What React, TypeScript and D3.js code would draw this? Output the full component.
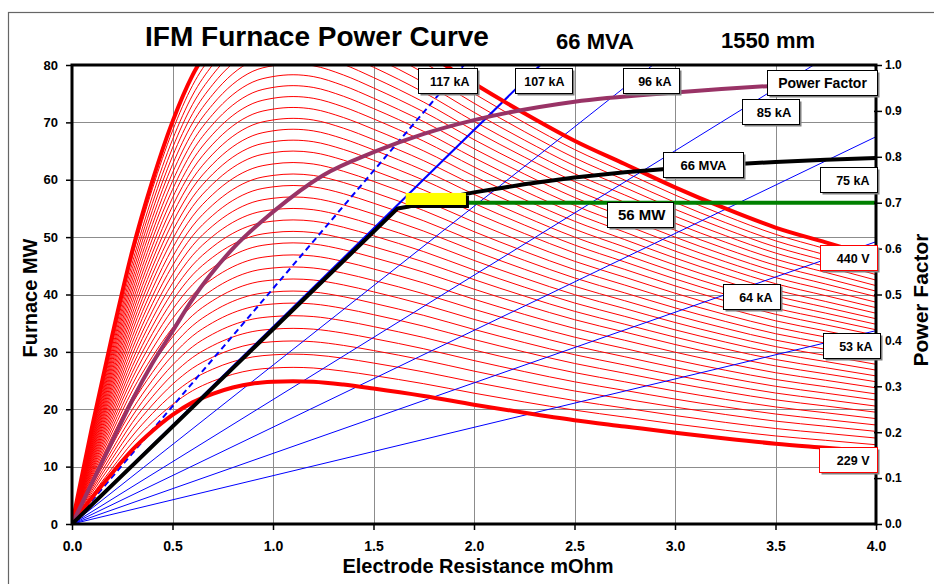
import { useEffect, useRef } from 'react';
import * as d3 from 'd3';

const WIDTH = 934;
const HEIGHT = 584;
const FONT = "'Liberation Sans', Arial, Helvetica, sans-serif";

// 229 V tap curve, read at these electrode resistances (mOhm)
const curveR = [0, 0.1, 0.2, 0.3, 0.4, 0.5, 0.6, 0.7, 0.8, 0.9, 1.0, 1.1, 1.2, 1.35, 1.5, 1.75, 2.0, 2.25, 2.5, 2.75, 3.0, 3.25, 3.5, 3.75, 4.0];
const curve229 = [0, 4.6, 8.9, 12.9, 16.2, 19.0, 21.2, 22.7, 23.8, 24.5, 24.8, 24.9, 24.8, 24.3, 23.6, 22.3, 20.8, 19.4, 18.1, 17.0, 15.9, 14.9, 14.0, 13.3, 12.6];
const peak229 = 24.9;

// peak MW of the intermediate taps (thin red lines)
const tapPeaks = [27.3, 29.6, 31.9, 34.1, 36.3, 38.5, 40.6, 42.7, 44.8, 46.9, 49.0, 51.0, 53.0, 55.0, 57.0, 59.0,
  61.0, 63.0, 65.0, 66.9, 68.8, 70.7, 72.6, 74.5, 76.4, 78.3, 80.2, 82.1, 84.0, 85.9, 87.8, 89.8];
// labelled taps (thick red): 229 V and 440 V
const thickTapPeaks = [24.9, 91.9];

// power factor, right axis
const pfR = [0, 0.1, 0.2, 0.3, 0.4, 0.5, 0.6, 0.8, 1.0, 1.25, 1.5, 1.75, 2.0, 2.5, 3.0, 3.5, 4.0];
const pfVal = [0, 0.09, 0.18, 0.27, 0.35, 0.42, 0.49, 0.6, 0.68, 0.76, 0.81, 0.85, 0.88, 0.92, 0.94, 0.955, 0.965];

// operating line: 107 kA up to the 66 MVA limit, then along it
const opR = [0, 1.62, 1.67, 1.75, 1.87, 2.0, 2.25, 2.5, 2.75, 3.0, 3.25, 3.5, 3.75, 4.0];
const opMW = [0, 55.0, 55.3, 56.0, 56.9, 57.8, 59.2, 60.4, 61.3, 62.0, 62.6, 63.1, 63.5, 63.8];

// constant current lines, origin to where they leave the plot
const currentKA = [117, 107, 96, 85, 75, 64, 53];
const currentEndR = [1.95, 2.33, 2.89, 3.69, 4.0, 4.0, 4.0];
const currentEndMW = [80, 80, 80, 80, 67.5, 49.2, 33.7];

// 56 MW target
const targetMW = 56;
const targetFromR = 1.96;
const boxR = [1.66, 1.96];
const boxMW = [55.6, 57.7];

// callouts
const tagText = ['117 kA', '107 kA', '96 kA', 'Power Factor', '85 kA', '66 MVA', '75 kA', '56 MW', '440 V', '64 kA', '53 kA', '229 V'];
const tagR = [1.868, 2.346, 2.881, 3.731, 3.475, 3.139, 3.863, 2.826, 3.863, 3.380, 3.878, 3.861];
const tagMW = [77.3, 77.3, 77.3, 77.0, 71.9, 62.6, 60.0, 53.9, 46.4, 39.6, 31.1, 11.3];

export default function App() {
  const svgRef = useRef<SVGSVGElement>(null);

  useEffect(() => {
    const svg = d3.select(svgRef.current);
    svg.selectAll('*').remove();

    const left = 72, right = 876, top = 65, bottom = 524;
    const x = d3.scaleLinear().domain([0, 4]).range([left, right]);
    const y = d3.scaleLinear().domain([0, 80]).range([bottom, top]);
    const yPF = d3.scaleLinear().domain([0, 1]).range([bottom, top]);

    svg.append('rect').attr('width', WIDTH).attr('height', HEIGHT).attr('fill', 'white');
    // outer frame
    svg.append('rect')
      .attr('x', 8.5).attr('y', 12.5).attr('width', 1000).attr('height', 1000)
      .attr('fill', 'none').attr('stroke', '#666').attr('stroke-width', 1.2);

    svg.append('defs').append('clipPath').attr('id', 'plotClip')
      .append('rect').attr('x', left).attr('y', top).attr('width', right - left).attr('height', bottom - top);

    // gridlines
    const grid = svg.append('g').attr('stroke', '#8c8c8c').attr('stroke-width', 1);
    grid.selectAll('line.v').data(d3.range(0.5, 4, 0.5)).join('line')
      .attr('x1', d => Math.round(x(d)) + 0.5).attr('x2', d => Math.round(x(d)) + 0.5)
      .attr('y1', top).attr('y2', bottom);
    grid.selectAll('line.h').data(d3.range(10, 80, 10)).join('line').attr('class', 'h')
      .attr('x1', left).attr('x2', right)
      .attr('y1', d => Math.round(y(d)) + 0.5).attr('y2', d => Math.round(y(d)) + 0.5);

    const plot = svg.append('g').attr('clip-path', 'url(#plotClip)');

    const tapLine = (peak: number) => d3.line<number>()
      .x((_, i) => x(curveR[i]))
      .y(d => y(d * peak / peak229))
      .curve(d3.curveMonotoneX)(curve229);

    // thin tap curves
    plot.append('g').selectAll('path').data(tapPeaks).join('path')
      .attr('d', d => tapLine(d))
      .attr('fill', 'none').attr('stroke', '#ff0000').attr('stroke-width', 1);

    // constant current lines
    plot.append('g').selectAll('line').data(currentKA).join('line')
      .attr('x1', x(0)).attr('y1', y(0))
      .attr('x2', (_, i) => x(currentEndR[i])).attr('y2', (_, i) => y(currentEndMW[i]))
      .attr('stroke', '#0000ff')
      .attr('stroke-width', d => (d >= 107 ? 2 : 1))
      .attr('stroke-dasharray', d => (d === 117 ? '6,4' : null));

    // 229 V and 440 V
    plot.append('g').selectAll('path').data(thickTapPeaks).join('path')
      .attr('d', d => tapLine(d))
      .attr('fill', 'none').attr('stroke', '#ff0000').attr('stroke-width', 4);

    // power factor
    plot.append('path')
      .datum(pfVal)
      .attr('d', d3.line<number>().x((_, i) => x(pfR[i])).y(d => yPF(d)).curve(d3.curveMonotoneX))
      .attr('fill', 'none').attr('stroke', '#993366').attr('stroke-width', 4);

    // operating line
    plot.append('path')
      .datum(opMW)
      .attr('d', d3.line<number>().x((_, i) => x(opR[i])).y(d => y(d)))
      .attr('fill', 'none').attr('stroke', 'black').attr('stroke-width', 4).attr('stroke-linejoin', 'round');

    // 56 MW target
    plot.append('line')
      .attr('x1', x(targetFromR)).attr('x2', x(4)).attr('y1', y(targetMW)).attr('y2', y(targetMW))
      .attr('stroke', '#008000').attr('stroke-width', 4);

    svg.append('rect')
      .attr('x', x(boxR[0]) + 3).attr('y', y(boxMW[1]) + 3)
      .attr('width', x(boxR[1]) - x(boxR[0])).attr('height', y(boxMW[0]) - y(boxMW[1]))
      .attr('fill', 'black');
    svg.append('rect')
      .attr('x', x(boxR[0])).attr('y', y(boxMW[1]))
      .attr('width', x(boxR[1]) - x(boxR[0])).attr('height', y(boxMW[0]) - y(boxMW[1]))
      .attr('fill', '#ffff00');

    // plot border
    svg.append('rect')
      .attr('x', left).attr('y', top).attr('width', right - left).attr('height', bottom - top)
      .attr('fill', 'none').attr('stroke', 'black').attr('stroke-width', 3);

    // axes
    const styleAxis = (g: d3.Selection<SVGGElement, unknown, null, undefined>, size: number) => {
      g.select('.domain').remove();
      g.selectAll('line').attr('stroke', 'black').attr('stroke-width', 1.5);
      g.selectAll('text').attr('font-family', FONT).attr('font-size', size).attr('font-weight', 'bold').attr('fill', 'black');
    };

    svg.append('g')
      .attr('transform', `translate(${left - 1},0)`)
      .call(d3.axisLeft(y).tickValues(d3.range(0, 81, 10)).tickSize(5).tickPadding(8).tickFormat(d3.format('d')))
      .call(g => styleAxis(g, 13));

    svg.append('g')
      .attr('transform', `translate(0,${bottom + 1})`)
      .call(d3.axisBottom(x).tickValues(d3.range(0, 4.01, 0.5)).tickSize(5).tickPadding(11).tickFormat(d3.format('.1f')))
      .call(g => styleAxis(g, 14));

    svg.append('g')
      .attr('transform', `translate(${right - 2},0)`)
      .call(d3.axisRight(yPF).tickValues(d3.range(0, 1.01, 0.1)).tickSize(8).tickPadding(3).tickFormat(d3.format('.1f')))
      .call(g => styleAxis(g, 12));

    // titles
    const text = (tx: number, ty: number, s: string, size: number, rotate = 0) =>
      svg.append('text')
        .attr('transform', `translate(${tx},${ty}) rotate(${rotate})`)
        .attr('text-anchor', 'middle')
        .attr('font-family', FONT).attr('font-size', size).attr('font-weight', 'bold')
        .text(s);

    text(317, 46, 'IFM Furnace Power Curve', 28);
    text(595, 49, '66 MVA', 22);
    text(768, 48, '1550 mm', 22);
    text(478, 573, 'Electrode Resistance mOhm', 20);
    text(37, 298, 'Furnace MW', 20, -90);
    text(928, 300, 'Power Factor', 21, -90);

    // callout boxes
    const tagW = [59, 57, 56, 110, 57, 80, 57, 66, 57, 57, 57, 58];
    const tagSize = [12.5, 12.5, 12.5, 14, 13, 13, 12.5, 15, 12.5, 12.5, 12.5, 12.5];
    const tags = svg.append('g');
    tagText.forEach((t, i) => {
      const w = tagW[i];
      const h = 25;
      const cx = x(tagR[i]);
      const cy = y(tagMW[i]);
      const bx = Math.round(cx - w / 2) + 0.5;
      const by = Math.round(cy - h / 2) + 0.5;
      const isVolt = t.endsWith(' V');
      const centred = t === 'Power Factor' || t === '66 MVA';
      tags.append('rect').attr('x', bx + 2).attr('y', by + 2).attr('width', w).attr('height', h).attr('fill', '#808080');
      tags.append('rect').attr('x', bx).attr('y', by).attr('width', w).attr('height', h)
        .attr('fill', 'white').attr('stroke', isVolt ? '#ff0000' : 'black').attr('stroke-width', 1);
      tags.append('text')
        .attr('x', centred ? bx + w / 2 : bx + w - 8)
        .attr('y', by + h / 2)
        .attr('dy', '0.36em')
        .attr('text-anchor', centred ? 'middle' : 'end')
        .attr('font-family', FONT).attr('font-size', tagSize[i]).attr('font-weight', 'bold')
        .text(t);
    });
  }, []);

  return (
    <svg ref={svgRef} width={WIDTH} height={HEIGHT} style={{ position: 'absolute', left: 0, top: 0 }} />
  );
}
